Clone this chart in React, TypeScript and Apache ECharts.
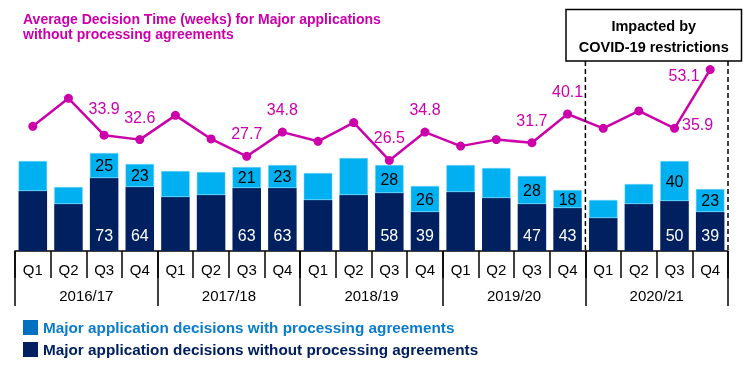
import React, { useEffect, useRef } from 'react';
import * as echarts from 'echarts';

const quarters = ['Q1','Q2','Q3','Q4','Q1','Q2','Q3','Q4','Q1','Q2','Q3','Q4','Q1','Q2','Q3','Q4','Q1','Q2','Q3','Q4'];
const years = ['2016/17', '2017/18', '2018/19', '2019/20', '2020/21'];
const withAgreements = [30, 17, 25, 23, 26, 23, 21, 23, 27, 37, 28, 26, 27, 30, 28, 18, 18, 20, 40, 23];
const withoutAgreements = [60, 47, 73, 64, 54, 56, 63, 63, 51, 56, 58, 39, 59, 53, 47, 43, 33, 47, 50, 39];
const avgWeeks = [36.5, 44.7, 33.9, 32.6, 39.7, 32.8, 27.7, 34.8, 32.1, 37.6, 26.5, 34.8, 30.7, 32.6, 31.7, 40.1, 35.9, 41.0, 35.9, 53.1];
const labelled = [false, false, true, true, false, false, true, true, false, false, true, true, false, false, true, true, false, false, true, true];

const FONT = '"Liberation Sans", Arial, sans-serif';
const MAGENTA = '#CC00AA';
const LIGHT = '#00B0F0';
const DARK = '#002060';

export default function App() {
  const ref = useRef<HTMLDivElement>(null);
  useEffect(() => {
    if (!ref.current) return;
    const chart = echarts.init(ref.current, undefined, { renderer: 'svg' });
    const n = quarters.length;
    const lineLabel = (i: number) => {
      if (i === n - 2) return { position: 'right', distance: 3, offset: [0, -4] };
      if (i === n - 1) return { position: 'left', distance: 6, offset: [0, 6] };
      if (i === 2) return { position: 'top', distance: 10, offset: [0, -4] };
      return { position: 'top', distance: 10 };
    };
    chart.setOption({
      animation: false,
      textStyle: { fontFamily: FONT },
      title: {
        text: 'Average Decision Time (weeks) for Major applications\nwithout processing agreements',
        left: 23, top: 11, padding: 0,
        textStyle: { color: MAGENTA, fontSize: 14, fontWeight: 'bold', lineHeight: 15, fontFamily: FONT },
      },
      legend: {
        orient: 'vertical', left: 23, top: 320, padding: 0,
        itemWidth: 15, itemHeight: 15, itemGap: 7,
        selectedMode: false,
        textStyle: { fontSize: 15.3, fontWeight: 'bold', fontFamily: FONT },
        data: [
          { name: 'Major application decisions with processing agreements', icon: 'rect', itemStyle: { color: '#0070C0', borderWidth: 0 }, textStyle: { color: '#0A7CCB' } },
          { name: 'Major application decisions without processing agreements', icon: 'rect', itemStyle: { color: DARK, borderWidth: 0 }, textStyle: { color: DARK } },
        ],
      },
      grid: { left: 15, right: 21, top: 46, bottom: 117 },
      xAxis: [
        {
          type: 'category', data: quarters, position: 'bottom',
          axisLine: { show: true, lineStyle: { color: '#000', width: 1.5 } },
          axisTick: { show: true, interval: 0, length: 27, lineStyle: { color: '#000', width: 1.5 } },
          axisLabel: { interval: 0, margin: 11, fontSize: 15, color: '#000', fontFamily: FONT },
        },
        {
          type: 'category', data: years, position: 'bottom',
          axisLine: { show: false },
          axisTick: { show: true, interval: 0, length: 55, lineStyle: { color: '#000', width: 1.5 } },
          axisLabel: { interval: 0, margin: 37, fontSize: 15, color: '#000', fontFamily: FONT },
        },
      ],
      yAxis: [
        { type: 'value', min: 0, max: 205, show: false, splitLine: { show: false } },
        { type: 'value', min: 0, max: 60, show: false, splitLine: { show: false } },
      ],
      series: [
        {
          name: 'Major application decisions without processing agreements',
          type: 'bar', stack: 'total', barWidth: '80%', xAxisIndex: 0, yAxisIndex: 0,
          itemStyle: { color: DARK },
          data: withoutAgreements.map((v, i) => ({
            value: v,
            label: { show: labelled[i], position: 'insideBottom', distance: 8, color: '#fff', fontSize: 16, fontFamily: FONT },
          })),
        },
        {
          name: 'Major application decisions with processing agreements',
          type: 'bar', stack: 'total', barWidth: '80%', xAxisIndex: 0, yAxisIndex: 0,
          itemStyle: { color: LIGHT, borderColor: '#7FD8F8', borderWidth: 0.5 },
          data: withAgreements.map((v, i) => ({
            value: v,
            label: { show: labelled[i], position: 'inside', color: '#000', fontSize: 16, fontFamily: FONT },
          })),
        },
        {
          name: 'Average decision time',
          type: 'line', xAxisIndex: 0, yAxisIndex: 1,
          symbol: 'circle', symbolSize: 9,
          lineStyle: { color: MAGENTA, width: 2.5 },
          itemStyle: { color: MAGENTA },
          data: avgWeeks.map((v, i) => ({
            value: v,
            label: { show: labelled[i], color: MAGENTA, fontSize: 16, fontFamily: FONT, ...lineLabel(i) },
          })),
        },
      ],
    });
    const x15 = chart.convertToPixel({ xAxisIndex: 0 }, n - 5) as number;
    const x16 = chart.convertToPixel({ xAxisIndex: 0 }, n - 4) as number;
    const xLast = chart.convertToPixel({ xAxisIndex: 0 }, n - 1) as number;
    const step = x16 - x15;
    const xa = (x15 + x16) / 2;
    const xb = xLast + step / 2;
    const yTop = 61;
    const yBase = chart.convertToPixel({ yAxisIndex: 0 }, 0) as number;
    chart.setOption({
      graphic: [
        { type: 'line', shape: { x1: xa, y1: yTop, x2: xa, y2: yBase }, style: { stroke: '#000', lineWidth: 1.5, lineDash: [5, 3] }, z: 10 },
        { type: 'line', shape: { x1: xb, y1: yTop, x2: xb, y2: yBase }, style: { stroke: '#000', lineWidth: 1.5, lineDash: [5, 3] }, z: 10 },
        { type: 'rect', shape: { x: 566, y: 9.5, width: 175.5, height: 51.5 }, style: { fill: '#fff', stroke: '#000', lineWidth: 1.5 }, z: 10 },
        { type: 'text', x: 653.75, y: 26, style: { text: 'Impacted by', fill: '#000', font: 'bold 14.5px "Liberation Sans", Arial, sans-serif', textAlign: 'center', textVerticalAlign: 'middle' }, z: 11 },
        { type: 'text', x: 653.75, y: 46.5, style: { text: 'COVID-19 restrictions', fill: '#000', font: 'bold 14.5px "Liberation Sans", Arial, sans-serif', textAlign: 'center', textVerticalAlign: 'middle' }, z: 11 },
      ],
    });
    return () => chart.dispose();
  }, []);
  return <div ref={ref} style={{ position: 'fixed', left: 0, top: 0, width: 749, height: 368 }} />;
}
